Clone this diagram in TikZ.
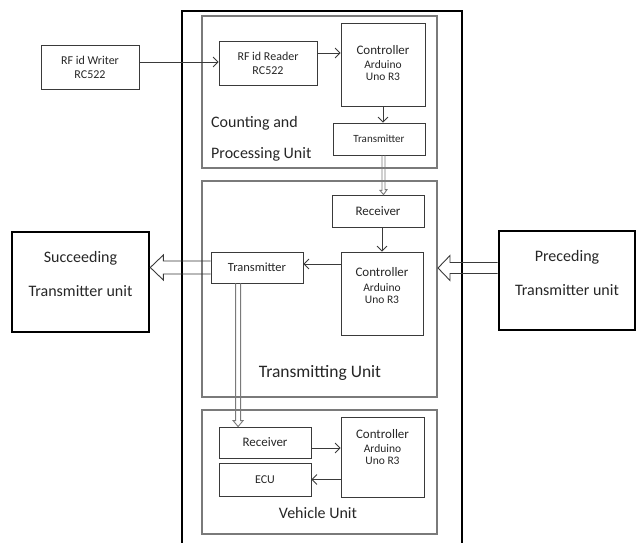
\documentclass[tikz,border=0pt]{standalone}
\usepackage{fontspec}
\setmainfont{Carlito}
\usetikzlibrary{calc,arrows.meta}
\definecolor{txt}{HTML}{262626}
\definecolor{edge}{HTML}{3A3A3A}
\definecolor{unitc}{HTML}{7A7A7A}
\tikzset{
  box/.style={draw=edge, line width=0.8pt, rectangle, inner sep=0pt, align=center, text=txt, font=\fontsize{12}{14}\selectfont},
  unitbox/.style={draw=unitc, line width=1.1pt, rectangle, inner sep=0pt},
  bigbox/.style={draw=black, line width=2.6pt, rectangle, inner sep=0pt},
  arr/.style={draw=edge, line width=0.8pt, -{Straight Barb[length=5pt,width=10pt]}},
  hollow/.style={draw=edge, line width=0.9pt, line join=miter},
  dbl/.style={draw=unitc, line width=0.9pt, line join=miter},
  lbl/.style={text=txt, inner sep=0pt},
}
\begin{document}
\begin{tikzpicture}[x=1pt,y=-1pt]
\useasboundingbox (0,0) rectangle (641,542);
% outer frame
\draw[black, line width=2.8pt] (182,548) -- (182,11) -- (462,11) -- (462,548);
% unit boxes
\node[unitbox, minimum width=235, minimum height=152] (cpu) at (319.5,92) {};
\node[unitbox, minimum width=235, minimum height=216] (tu) at (319.5,289) {};
\node[unitbox, minimum width=235, minimum height=124] (vu) at (319.5,472) {};
% external boxes
\node[box, minimum width=98, minimum height=44] (writer) at (90,67) {RF id Writer\\RC522};
\node[bigbox, minimum width=137, minimum height=100] (succ) at (80.5,282) {};
\node[lbl, font=\fontsize{16}{18}\selectfont] (succa) at (80.5,258) {Succeeding};
\node[lbl, font=\fontsize{16}{18}\selectfont] (succb) at (80.5,291) {Transmitter unit};
\node[bigbox, minimum width=136, minimum height=99] (prec) at (567,280.5) {};
\node[lbl, font=\fontsize{16}{18}\selectfont] (preca) at (567,257) {Preceding};
\node[lbl, font=\fontsize{16}{18}\selectfont] (precb) at (567,290) {Transmitter unit};
% counting and processing unit
\node[box, minimum width=98, minimum height=44] (reader) at (268,63) {RF id Reader\\RC522};
\node[box, minimum width=84, minimum height=83] (ctop) at (383,64.5) {};
\node[lbl, font=\fontsize{13}{15}\selectfont] (ctopa) at (383,50) {Controller};
\node[lbl, font=\fontsize{11.5}{13}\selectfont, align=center] (ctopb) at (383,71) {Arduino\\[-1pt]Uno R3};
\node[box, minimum width=92, minimum height=32, font=\fontsize{11}{13}\selectfont] (txtop) at (379,139) {Transmitter};
\node[lbl, anchor=west, font=\fontsize{16}{18}\selectfont] (cpl1) at (211,123) {Counting and};
\node[lbl, anchor=west, font=\fontsize{16}{18}\selectfont] (cpl2) at (211,154) {Processing Unit};
% transmitting unit
\node[box, minimum width=92, minimum height=32, font=\fontsize{13}{15}\selectfont] (rxmid) at (378,211) {Receiver};
\node[box, minimum width=82, minimum height=83] (cmid) at (382,293.5) {};
\node[lbl, font=\fontsize{13}{15}\selectfont] (cmida) at (382,272) {Controller};
\node[lbl, font=\fontsize{11.5}{13}\selectfont, align=center] (cmidb) at (382,294) {Arduino\\[-1pt]Uno R3};
\node[box, minimum width=92, minimum height=31, font=\fontsize{12.5}{15}\selectfont] (txmid) at (257,267.5) {Transmitter};
\node[lbl, font=\fontsize{17.5}{20}\selectfont] (tul) at (320,373) {Transmitting Unit};
% vehicle unit
\node[box, minimum width=92, minimum height=31, font=\fontsize{13}{15}\selectfont] (rxbot) at (265,442.5) {Receiver};
\node[box, minimum width=92, minimum height=33] (ecu) at (265,479.5) {ECU};
\node[box, minimum width=83, minimum height=80] (cbot) at (382.5,457) {};
\node[lbl, font=\fontsize{13}{15}\selectfont] (cbota) at (382.5,434) {Controller};
\node[lbl, font=\fontsize{11.5}{13}\selectfont, align=center] (cbotb) at (382.5,455) {Arduino\\[-1pt]Uno R3};
\node[lbl, font=\fontsize{16}{18}\selectfont] (vul) at (318,513) {Vehicle Unit};
% simple arrows
\draw[arr] ([yshift=5pt]writer.east) -- ([yshift=5pt]writer.east -| reader.west);
\draw[arr] ([yshift=10pt]reader.east) -- ([yshift=10pt]reader.east -| ctop.west);
\draw[arr] (ctop.south) -- (ctop.south |- txtop.north);
\draw[arr] (cmid.north |- rxmid.south) -- (cmid.north);
\draw[arr] ([yshift=3.5pt]txmid.east -| cmid.west) -- ([yshift=3.5pt]txmid.east);
\draw[arr] ([yshift=-5.5pt]rxbot.east) -- ([yshift=-5.5pt]rxbot.east -| cbot.west);
\draw[arr] (ecu.east -| cbot.west) -- (ecu.east);
% thin block arrows
\draw[dbl] ($(txtop.south)+(3,0)$) -- ++(0,35) -- ++(-2,0) -- ($(rxmid.north)+(5.5,0)$) -- ++(3.5,-5) -- ++(-2,0) -- ($(txtop.south)+(6,0)$);
\draw[dbl] ($(txmid.south west)+(25,0)$) -- ($(rxbot.north west)+(17,-6)$) -- ++(-2.5,0) -- ($(rxbot.north west)+(19.5,0)$) -- ++(5,-6) -- ++(-2.5,0) -- ($(txmid.south west)+(30,0)$);
% big hollow arrows
\draw[hollow] ($(txmid.west)+(0,-6.5)$) -- ($(succ.east |- txmid.west)+(13,-6.5)$) -- ++(0,-6) -- (succ.east |- txmid.west) -- ++(13,12.5) -- ++(0,-6) -- ($(txmid.west)+(0,6.5)$);
\coordinate (ptip) at (438,268);
\draw[hollow] (prec.west |- 0,262.5) -- (450,262.5) -- ++(0,-7) -- (ptip) -- ++(12,12.5) -- ++(0,-7) -- (prec.west |- 0,273.5);
\end{tikzpicture}
\end{document}
